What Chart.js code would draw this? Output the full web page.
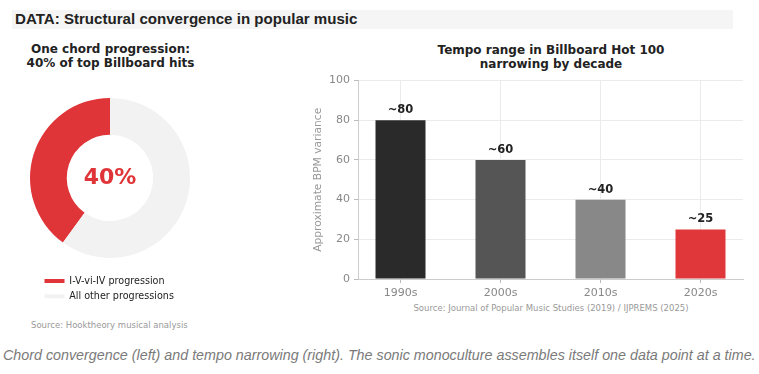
<!DOCTYPE html>
<html>
<head>
<meta charset="utf-8">
<script src="https://cdn.jsdelivr.net/npm/chart.js@4/dist/chart.umd.min.js"></script>
<style>
  html, body { margin: 0; padding: 0; background: #ffffff; }
  body { width: 759px; height: 374px; position: relative; overflow: hidden; }
  .abs { position: absolute; }
  #header { left: 12px; top: 10px; width: 721px; height: 19px; background: #f5f5f5; }
  #header span { position: absolute; left: 3px; top: 0; line-height: 19px; font: bold 15.1px "Liberation Sans", Arial, sans-serif; color: #222; white-space: nowrap; }
  .ctitle { font: bold 12px "DejaVu Sans", sans-serif; color: #222; line-height: 14px; text-align: center; white-space: nowrap; }
  .src { font: 8.5px "DejaVu Sans", sans-serif; color: #999; white-space: nowrap; }
  #caption { left: 3px; top: 346px; font: italic 14.3px "Liberation Sans", Arial, sans-serif; color: #7a7a7a; white-space: nowrap; line-height: 18px; }
</style>
</head>
<body>
<div id="header" class="abs"><span>DATA: Structural convergence in popular music</span></div>

<div class="abs ctitle" style="left:0px; top:42px; width:221px;">One chord progression:<br>40% of top Billboard hits</div>
<div class="abs ctitle" style="left:401px; top:43px; width:300px;">Tempo range in Billboard Hot 100<br>narrowing by decade</div>

<div class="abs" style="left:20px; top:85px; width:180px; height:226px;"><canvas id="donut"></canvas></div>
<div class="abs" style="left:300px; top:70px; width:459px; height:230px;"><canvas id="bars"></canvas></div>

<div class="abs src" style="left:31px; top:320px;">Source: Hooktheory musical analysis</div>
<div class="abs src" style="left:401px; top:303px; width:300px; text-align:center;">Source: Journal of Popular Music Studies (2019) / IJPREMS (2025)</div>

<div id="caption" class="abs">Chord convergence (left) and tempo narrowing (right). The sonic monoculture assembles itself one data point at a time.</div>

<script>
// ---- data ----
const progressionLabels = ["I-V-vi-IV progression", "All other progressions"];
const progressionShare = [40, 60];

const decades = ["1990s", "2000s", "2010s", "2020s"];
const bpmVariance = [80, 60, 40, 25];

const yTicks = [0, 20, 40, 60, 80, 100];

// ---- styles ----
const DONUT_COLORS = ["#e03538", "#f2f2f2"];
const BAR_COLORS = ["#2a2a2a", "#555555", "#888888", "#e0383a"];
const FONT = '"DejaVu Sans", sans-serif';

Chart.defaults.font.family = FONT;
Chart.defaults.animation = false;

// Doughnut chart
const centerText = {
  id: 'centerText',
  afterDatasetsDraw(chart) {
    const arc = chart.getDatasetMeta(0).data[0];
    if (!arc) return;
    const ctx = chart.ctx;
    ctx.save();
    ctx.font = 'bold 22px ' + FONT;
    ctx.fillStyle = DONUT_COLORS[0];
    ctx.textAlign = 'center';
    ctx.textBaseline = 'middle';
    ctx.fillText(progressionShare[0] + '%', arc.x, arc.y);
    ctx.restore();
  }
};

new Chart(document.getElementById('donut'), {
  type: 'doughnut',
  data: {
    labels: progressionLabels,
    datasets: [{
      data: progressionShare,
      backgroundColor: DONUT_COLORS,
      borderWidth: 0,
      clip: false
    }]
  },
  options: {
    responsive: true,
    maintainAspectRatio: false,
    rotation: -progressionShare[0] / 100 * 360,
    radius: 80,
    cutout: '54%',
    layout: { padding: { left: 19, right: 19, top: 0, bottom: 0 } },
    plugins: {
      tooltip: { enabled: false },
      legend: {
        position: 'bottom',
        align: 'start',
        labels: {
          boxWidth: 20,
          boxHeight: 4,
          padding: 5.5,
          color: '#222',
          font: { size: 9.6, family: FONT }
        }
      }
    }
  },
  plugins: [centerText]
});

// Bar chart
const valueLabels = {
  id: 'valueLabels',
  afterDatasetsDraw(chart) {
    const meta = chart.getDatasetMeta(0);
    const ctx = chart.ctx;
    ctx.save();
    ctx.font = 'bold 11.5px ' + FONT;
    ctx.fillStyle = '#222';
    ctx.textAlign = 'center';
    ctx.textBaseline = 'middle';
    meta.data.forEach((bar, i) => {
      ctx.fillText('~' + bpmVariance[i], bar.x, bar.y - 10);
    });
    ctx.restore();
  }
};

new Chart(document.getElementById('bars'), {
  type: 'bar',
  data: {
    datasets: [{
      data: decades.map((d, i) => ({ x: i, y: bpmVariance[i] })),
      backgroundColor: BAR_COLORS,
      borderWidth: 0,
      barPercentage: 0.5,
      categoryPercentage: 1.0
    }]
  },
  options: {
    responsive: true,
    maintainAspectRatio: false,
    layout: { padding: { top: 9, right: 16, left: 0, bottom: 0 } },
    plugins: { legend: { display: false }, tooltip: { enabled: false } },
    scales: {
      x: {
        type: 'linear',
        offset: false,
        min: -0.425,
        max: 3.425,
        afterBuildTicks: (scale) => { scale.ticks = decades.map((d, i) => ({ value: i })); },
        afterFit: (scale) => { scale.height = 21; },
        ticks: {
          callback: (v) => decades[v],
          color: '#888',
          font: { size: 11 },
          padding: 3.5,
          maxRotation: 0
        },
        grid: { offset: false, color: '#ebebeb', tickColor: '#bbb', tickLength: 4 },
        border: { color: '#cccccc' }
      },
      y: {
        min: yTicks[0],
        max: yTicks[yTicks.length - 1],
        afterBuildTicks: (scale) => { scale.ticks = yTicks.map(v => ({ value: v })); },
        afterFit: (scale) => { scale.width = 58; },
        ticks: { color: '#888', font: { size: 11 }, padding: 4 },
        grid: { color: '#ebebeb', tickColor: '#bbb', tickLength: 4 },
        border: { color: '#cccccc' },
        title: {
          display: true,
          text: 'Approximate BPM variance',
          color: '#999',
          font: { size: 10.7 },
          padding: { top: 12, bottom: 0 }
        }
      }
    }
  },
  plugins: [valueLabels]
});
</script>
</body>
</html>
